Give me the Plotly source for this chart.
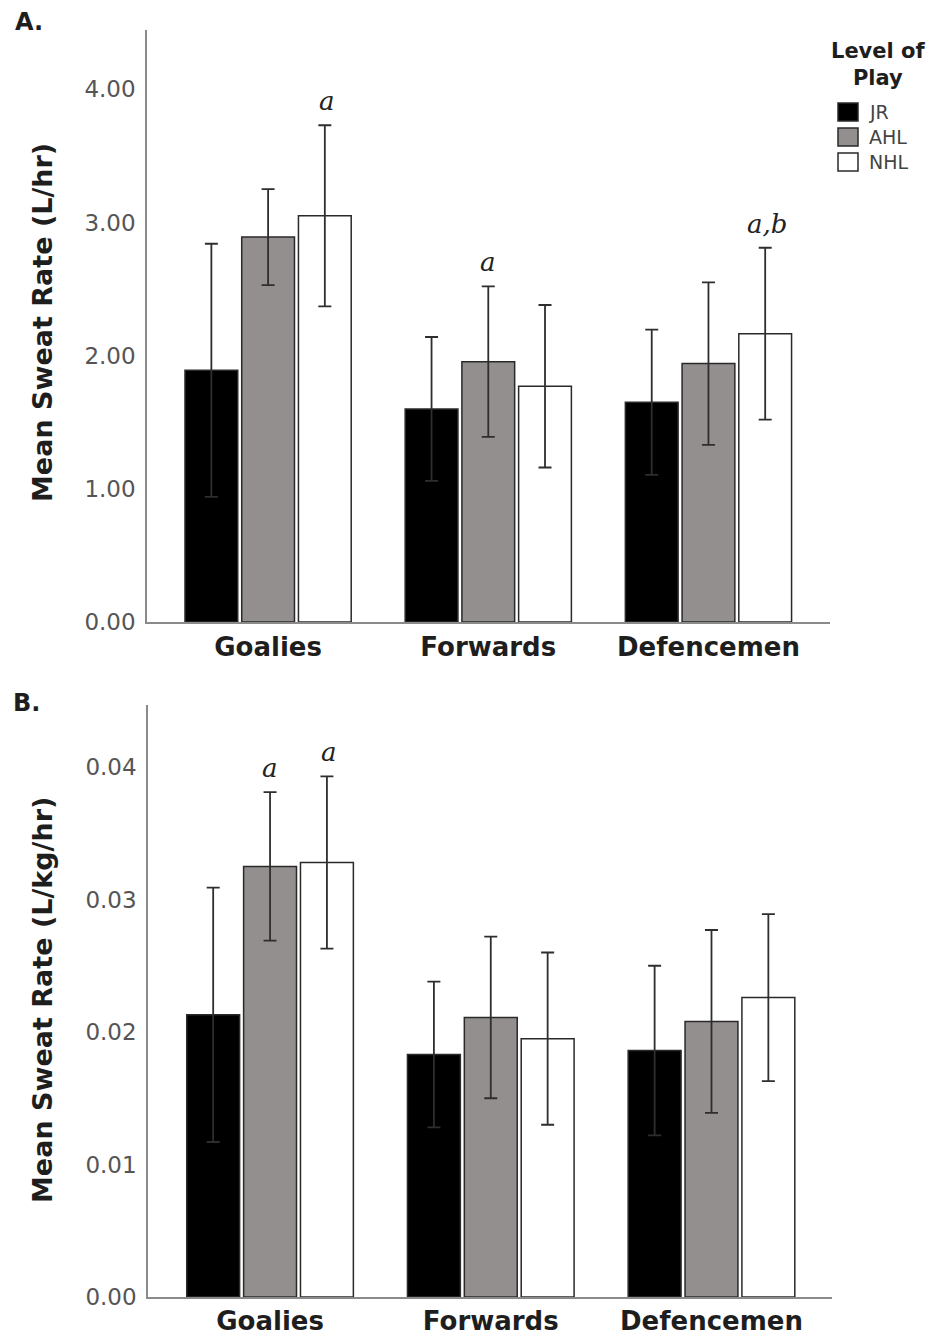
import plotly.graph_objects as go

# ---- data ----
positions = ["Goalies", "Forwards", "Defencemen"]
levels = ["JR", "AHL", "NHL"]

# Panel A: mean sweat rate (L/hr)
a_JR = [1.89, 1.60, 1.65]
a_AHL = [2.89, 1.955, 1.94]
a_NHL = [3.05, 1.77, 2.165]
a_JR_sd = [0.95, 0.54, 0.545]
a_AHL_sd = [0.36, 0.565, 0.61]
a_NHL_sd = [0.68, 0.61, 0.645]

# Panel B: mean sweat rate (L/kg/hr)
b_JR = [0.0213, 0.0183, 0.0186]
b_AHL = [0.0325, 0.0211, 0.0208]
b_NHL = [0.0328, 0.0195, 0.0226]
b_JR_sd = [0.0096, 0.0055, 0.0064]
b_AHL_sd = [0.0056, 0.0061, 0.0069]
b_NHL_sd = [0.0065, 0.0065, 0.0063]

a_ticks = [0, 1, 2, 3, 4]
a_ticklabels = ["0.00", "1.00", "2.00", "3.00", "4.00"]
b_ticks = [0, 0.01, 0.02, 0.03, 0.04]
b_ticklabels = ["0.00", "0.01", "0.02", "0.03", "0.04"]

# significance letters: (panel, position index, level index, text)
sig_marks = [
    ("A", 0, 2, "a"),
    ("A", 1, 1, "a"),
    ("A", 2, 2, "a,b"),
    ("B", 0, 1, "a"),
    ("B", 0, 2, "a"),
]

colors = {"JR": "#000000", "AHL": "#948f8f", "NHL": "#ffffff"}

W, H = 933, 1338

def px(x):
    return x / W

def py(y):
    return 1 - y / H

fig = go.Figure()

panelA = {"JR": (a_JR, a_JR_sd), "AHL": (a_AHL, a_AHL_sd), "NHL": (a_NHL, a_NHL_sd)}
panelB = {"JR": (b_JR, b_JR_sd), "AHL": (b_AHL, b_AHL_sd), "NHL": (b_NHL, b_NHL_sd)}

for panel, data, xa, ya in [("A", panelA, "x", "y"), ("B", panelB, "x2", "y2")]:
    for lev in levels:
        vals, sds = data[lev]
        fig.add_trace(go.Bar(
            x=positions, y=vals, name=lev, xaxis=xa, yaxis=ya,
            marker=dict(color=colors[lev], line=dict(color="#2a2a2a", width=1.5)),
            error_y=dict(type="data", array=sds, visible=True, color="#2e2e2e",
                         thickness=1.8, width=6.5),
            showlegend=False, offsetgroup=lev,
        ))

# significance annotations
offsets = {0: -58, 1: 0, 2: 59}
for panel, pi, li, txt in sig_marks:
    data = panelA if panel == "A" else panelB
    lev = levels[li]
    top = data[lev][0][pi] + data[lev][1][pi]
    fig.add_annotation(
        x=positions[pi], y=top, xref="x" if panel == "A" else "x2",
        yref="y" if panel == "A" else "y2",
        text=txt, showarrow=False, xshift=offsets[li], yshift=24,
        yanchor="middle",
        font=dict(family="DejaVu Serif", size=26, color="#222222", style="italic"),
    )

axis_line = dict(showline=True, linecolor="#8a8a8a", linewidth=1.5, showgrid=False,
                 zeroline=False, ticks="", automargin=False)

xtick_font = dict(family="DejaVu Sans", size=26, color="#1e1e1e", weight="bold")
ytick_font = dict(family="DejaVu Sans", size=23, color="#555555")

fig.update_layout(
    width=W, height=H,
    margin=dict(l=0, r=0, t=0, b=0, autoexpand=False),
    paper_bgcolor="white", plot_bgcolor="white",
    barmode="group", bargap=0.227, bargroupgap=0.07,
    font=dict(family="DejaVu Sans"),
    xaxis=dict(domain=[px(147), px(830)], anchor="y", range=[-0.55, 2.552],
               tickfont=xtick_font, ticklabelstandoff=1, **axis_line),
    yaxis=dict(domain=[py(622), py(30)], anchor="x", range=[0, 4.445],
               tickvals=a_ticks, ticktext=a_ticklabels,
               tickfont=ytick_font, ticklabelstandoff=5, **axis_line),
    xaxis2=dict(domain=[px(148), px(832)], anchor="y2", range=[-0.553, 2.546],
                tickfont=xtick_font, ticklabelstandoff=0, **axis_line),
    yaxis2=dict(domain=[py(1297), py(705)], anchor="x2", range=[0, 0.04468],
                tickvals=b_ticks, ticktext=b_ticklabels,
                tickfont=ytick_font, ticklabelstandoff=5, **axis_line),
)

# axis titles
for text, yc in [("Mean Sweat Rate (L/hr)", 323), ("Mean Sweat Rate (L/kg/hr)", 1000)]:
    fig.add_annotation(x=px(42), y=py(yc), xref="paper", yref="paper", text=text,
                       textangle=-90, showarrow=False, xanchor="center", yanchor="middle",
                       font=dict(family="DejaVu Sans", size=27, color="#1e1e1e", weight="bold"))

# panel labels
for text, xl, yc in [("A.", 13, 22), ("B.", 11, 703)]:
    fig.add_annotation(x=px(xl), y=py(yc), xref="paper", yref="paper", text=text,
                       showarrow=False, xanchor="left", yanchor="middle",
                       font=dict(family="DejaVu Sans", size=24, color="#1e1e1e", weight="bold"))

# legend (panel A)
fig.add_annotation(x=px(878), y=py(65), xref="paper", yref="paper",
                   text="Level of<br>Play", showarrow=False, xanchor="center",
                   yanchor="middle", align="center",
                   font=dict(family="DejaVu Sans", size=21, color="#1e1e1e", weight="bold"))
for i, lev in enumerate(levels):
    yc = 112 + 25 * i
    fig.add_shape(type="rect", xref="paper", yref="paper",
                  x0=px(838), x1=px(858), y0=py(yc - 9), y1=py(yc + 9),
                  fillcolor=colors[lev], line=dict(color="#2a2a2a", width=1.5))
    fig.add_annotation(x=px(867), y=py(yc), xref="paper", yref="paper", text=lev,
                       showarrow=False, xanchor="left", yanchor="middle",
                       font=dict(family="DejaVu Sans", size=19, color="#444444"))

post = (
    "document.documentElement.style.margin='0';"
    "document.documentElement.style.padding='0';"
    "document.body.style.margin='0';"
    "document.body.style.padding='0';"
    "document.body.style.overflow='hidden';"
)
fig.write_html("out.html", config={"displayModeBar": False}, post_script=post)
